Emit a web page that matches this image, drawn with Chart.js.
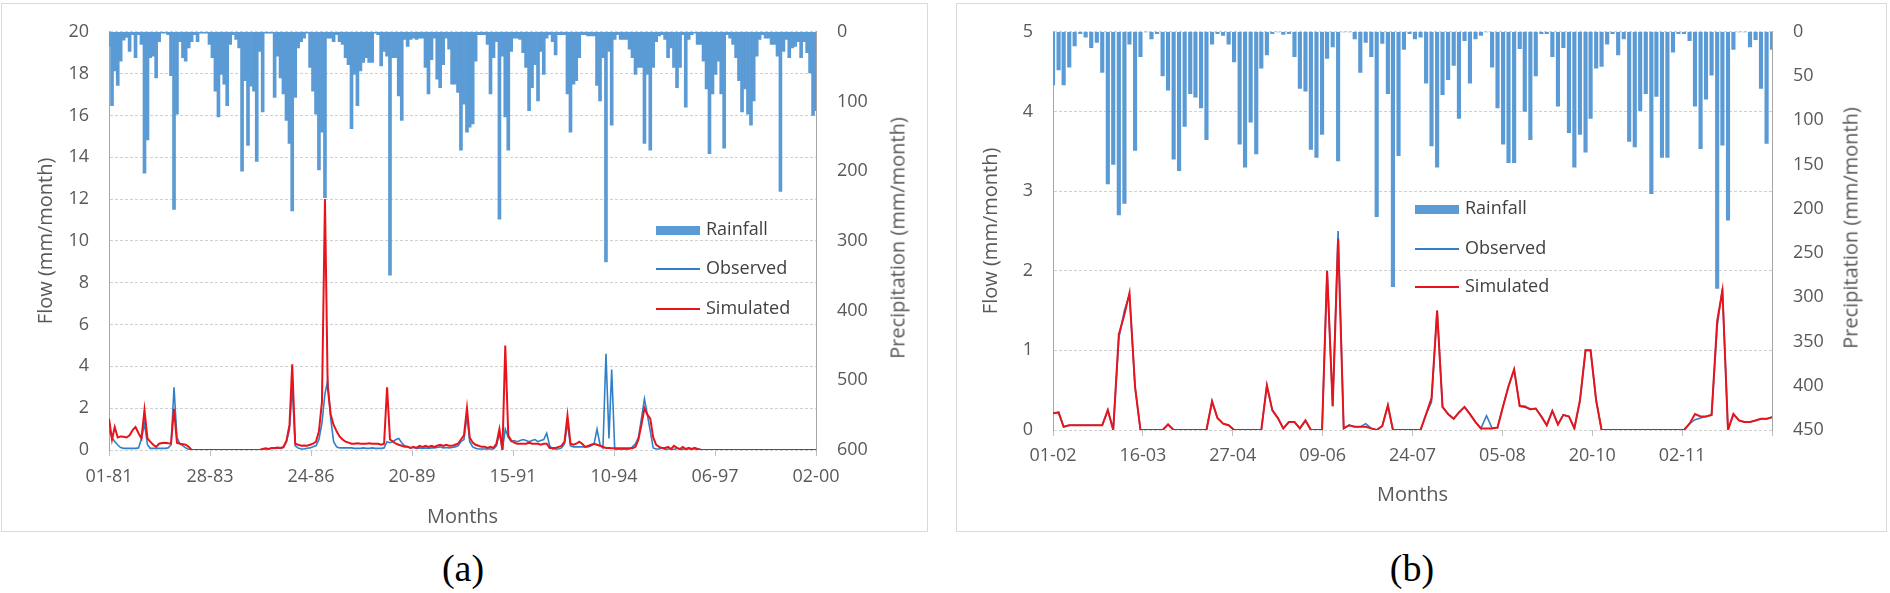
<!DOCTYPE html>
<html>
<head>
<meta charset="utf-8">
<title>Flow and rainfall</title>
<script src="https://cdn.jsdelivr.net/npm/chart.js@4.4.1/dist/chart.umd.min.js"></script>
<style>
  body { margin: 0; width: 1890px; height: 593px; background: #fff; position: relative; overflow: hidden; font-family: "Open Sans", sans-serif; }
  .panel { position: absolute; border: 1px solid #d9d9d9; box-sizing: border-box; }
  .wrap { position: absolute; top: 0; width: 945px; height: 540px; }
  .ytitle2 { position: absolute; transform: translate(-50%, -50%) rotate(-90deg); white-space: nowrap; font-size: 20px; color: #595959; }
  .leg { position: absolute; font-size: 18px; color: #404040; line-height: 20px; transform: translateY(-50%); white-space: nowrap; }
  .leg i { display: inline-block; width: 44px; vertical-align: middle; margin-right: 6px; }
  .cap { position: absolute; top: 568px; transform: translate(-50%, -50%); font-family: "Liberation Serif", serif; font-size: 38px; color: #000; }
</style>
</head>
<body>

<div class="panel" style="left:1px;top:3px;width:927px;height:529px"></div>
<div class="panel" style="left:956px;top:3px;width:931px;height:529px"></div>

<div class="wrap" style="left:0"><canvas id="chartA" width="945" height="540"></canvas></div>
<div class="wrap" style="left:945px"><canvas id="chartB" width="945" height="540"></canvas></div>

<div class="ytitle2" style="left:897px;top:238px">Precipitation (mm/month)</div>
<div class="ytitle2" style="left:1850px;top:228px">Precipitation (mm/month)</div>

<!-- legends (a) -->
<div class="leg" style="left:656px;top:228px"><i style="height:9px;background:#5b9bd5"></i>Rainfall</div>
<div class="leg" style="left:656px;top:267px"><i style="height:2px;background:#2f80c9"></i>Observed</div>
<div class="leg" style="left:656px;top:307px"><i style="height:2px;background:#e8141b"></i>Simulated</div>
<!-- legends (b) -->
<div class="leg" style="left:1415px;top:207px"><i style="height:9px;background:#5b9bd5"></i>Rainfall</div>
<div class="leg" style="left:1415px;top:247px"><i style="height:2px;background:#2f80c9"></i>Observed</div>
<div class="leg" style="left:1415px;top:285px"><i style="height:2px;background:#e8141b"></i>Simulated</div>

<div class="cap" style="left:463px">(a)</div>
<div class="cap" style="left:1412px">(b)</div>

<script>
// ----------------------------
// Data - panel (a), monthly 1981-2000
// ----------------------------
const startA = 1981;
const ticksA = ['01-81', '28-83', '24-86', '20-89', '15-91', '10-94', '06-97', '02-00'];

const rainA = [
  21, 106, 56, 77, 42, 12, 8, 28, 4, 37,
  4, 18, 203, 155, 37, 35, 66, 14, 2, 2,
  4, 63, 255, 118, 14, 37, 42, 23, 14, 4,
  14, 2, 2, 2, 18, 37, 85, 122, 61, 75,
  106, 18, 4, 11, 23, 200, 70, 163, 78, 85,
  186, 28, 115, 2, 2, 2, 94, 35, 66, 89,
  127, 160, 257, 94, 23, 14, 9, 2, 51, 85,
  118, 198, 144, 238, 9, 9, 14, 4, 14, 18,
  37, 47, 139, 61, 106, 56, 44, 37, 44, 44,
  2, 4, 49, 28, 35, 349, 37, 37, 92, 127,
  11, 21, 11, 9, 11, 9, 9, 51, 89, 40,
  9, 68, 80, 47, 9, 25, 75, 75, 87, 170,
  104, 144, 137, 132, 42, 4, 4, 4, 18, 89,
  37, 14, 269, 35, 122, 170, 28, 9, 9, 11,
  30, 51, 113, 80, 47, 99, 28, 61, 9, 4,
  14, 33, 4, 4, 4, 89, 144, 75, 70, 37,
  4, 4, 6, 6, 6, 77, 99, 37, 330, 28,
  134, 11, 4, 11, 11, 11, 25, 37, 61, 51,
  51, 160, 61, 170, 51, 14, 6, 4, 11, 37,
  23, 51, 80, 51, 4, 108, 11, 4, 2, 18,
  18, 42, 82, 175, 89, 61, 42, 89, 167, 4,
  9, 18, 37, 70, 115, 82, 118, 134, 99, 35,
  11, 4, 9, 9, 18, 18, 35, 229, 28, 11,
  37, 23, 21, 14, 37, 14, 30, 59, 120, 113
];

const observedA = [
  0.95, 0.6, 0.4, 0.24, 0.12, 0.08, 0.08, 0.08, 0.08, 0.08,
  0.1, 0.55, 1.26, 0.25, 0.08, 0.08, 0.08, 0.08, 0.08, 0.08,
  0.1, 0.24, 3.0, 0.6, 0.3, 0.2, 0.1, 0.03, 0, 0,
  0, 0, 0, 0, 0, 0, 0, 0, 0, 0,
  0, 0, 0, 0, 0, 0, 0, 0, 0, 0,
  0, 0, 0.03, 0.06, 0.04, 0.08, 0.08, 0.1, 0.08, 0.12,
  0.4, 1.0, 3.0, 0.2, 0.1, 0.05, 0.05, 0.08, 0.1, 0.15,
  0.2, 0.5, 1.3, 2.7, 3.3, 1.5, 0.4, 0.15, 0.1, 0.1,
  0.1, 0.1, 0.1, 0.08, 0.08, 0.08, 0.1, 0.08, 0.08, 0.1,
  0.08, 0.08, 0.08, 0.1, 0.4, 0.35, 0.4, 0.5, 0.55, 0.35,
  0.2, 0.15, 0.1, 0.12, 0.08, 0.1, 0.08, 0.1, 0.08, 0.1,
  0.1, 0.12, 0.15, 0.1, 0.12, 0.1, 0.12, 0.15, 0.2, 0.4,
  0.5, 1.65, 0.4, 0.15, 0.08, 0.05, 0.05, 0.05, 0.05, 0.05,
  0.05, 0.2, 0.8, 0, 1.0, 0.6, 0.4, 0.45, 0.4, 0.45,
  0.5, 0.45, 0.4, 0.45, 0.5, 0.4, 0.45, 0.5, 0.8, 0.2,
  0.05, 0.05, 0.05, 0.1, 0.3, 1.3, 0.2, 0.15, 0.15, 0.15,
  0.15, 0.15, 0.15, 0.2, 0.3, 1.0, 0.25, 0.1, 4.6, 0.55,
  3.85, 0.05, 0.03, 0.03, 0.03, 0.03, 0.05, 0.15, 0.3, 0.6,
  1.5, 2.45, 1.7, 0.9, 0.1, 0.05, 0.05, 0.1, 0.02, 0.05,
  0.05, 0.02, 0.08, 0.02, 0.05, 0.02, 0.06, 0.02, 0.06, 0.02,
  0.05, null, null, null, null, null, null, null, null, null,
  null, null, null, null, null, null, null, null, null, null,
  null, null, null, null, null, null, null, null, null, null,
  null, null, null, null, null, null, null, null, null, null
];

const simulatedA = [
  1.5, 0.5, 1.1, 0.6, 0.65, 0.63, 0.6, 0.7, 0.95, 1.1,
  0.8, 0.55, 1.92, 0.55, 0.4, 0.25, 0.15, 0.3, 0.33, 0.35,
  0.32, 0.3, 1.97, 0.35, 0.3, 0.28, 0.25, 0.15, 0, 0,
  0, 0, 0, 0, 0, 0, 0, 0, 0, 0,
  0, 0, 0, 0, 0, 0, 0, 0, 0, 0,
  0, 0, 0.05, 0.08, 0.05, 0.1, 0.1, 0.12, 0.1, 0.15,
  0.45, 1.2, 4.1, 0.3, 0.25, 0.2, 0.22, 0.2, 0.25, 0.3,
  0.4, 0.9, 2.3, 12, 3.0, 1.7, 1.2, 0.9, 0.65, 0.5,
  0.4, 0.35, 0.3, 0.3, 0.32, 0.3, 0.3, 0.3, 0.32, 0.3,
  0.3, 0.3, 0.25, 0.3, 3.0, 0.5, 0.4, 0.3, 0.25, 0.2,
  0.15, 0.15, 0.1, 0.15, 0.1, 0.2, 0.15, 0.2, 0.15, 0.2,
  0.15, 0.2, 0.25, 0.2, 0.25, 0.2, 0.2, 0.25, 0.3, 0.5,
  0.7, 2.0, 0.6, 0.35, 0.25, 0.2, 0.15, 0.15, 0.1, 0.15,
  0.1, 0.3, 1.0, 0, 5.0, 0.7, 0.45, 0.35, 0.3, 0.3,
  0.3, 0.3, 0.35, 0.3, 0.3, 0.3, 0.25, 0.3, 0.3, 0.1,
  0.1, 0.1, 0.15, 0.2, 0.4, 1.65, 0.3, 0.25, 0.3, 0.4,
  0.3, 0.15, 0.2, 0.25, 0.3, 0.25, 0.2, 0.15, 0.1, 0.1,
  0.08, 0.08, 0.08, 0.08, 0.08, 0.08, 0.08, 0.08, 0.15, 0.5,
  1.2, 2.0, 1.7, 1.5, 0.6, 0.25, 0.15, 0.1, 0.1, 0.15,
  0.05, 0.2, 0.1, 0.05, 0.15, 0.05, 0.1, 0.05, 0.1, 0.05,
  0, 0, 0, 0, 0, 0, 0, 0, 0, 0,
  0, 0, 0, 0, 0, 0, 0, 0, 0, 0,
  0, 0, 0, 0, 0, 0, 0, 0, 0, 0,
  0, 0, 0, 0, 0, 0, 0, 0, 0, 0
];

// ----------------------------
// Data - panel (b), monthly 2002-2012
// ----------------------------
const startB = 2002;
const ticksB = ['01-02', '16-03', '27-04', '09-06', '24-07', '05-08', '20-10', '02-11'];

const rainB = [
  60, 43, 60, 40, 16, 2, 6, 18, 12, 46,
  172, 150, 207, 194, 14, 134, 28, 0, 8, 2,
  50, 66, 144, 157, 107, 70, 74, 86, 122, 14,
  2, 4, 14, 34, 127, 153, 102, 138, 41, 26,
  2, 0, 3, 2, 28, 64, 67, 133, 142, 116,
  30, 17, 146, 0, 0, 8, 46, 12, 28, 209,
  13, 70, 288, 140, 20, 2, 8, 6, 58, 129,
  153, 71, 54, 38, 98, 10, 58, 8, 4, 0,
  40, 86, 127, 148, 148, 19, 90, 122, 50, 2,
  2, 28, 84, 18, 114, 153, 116, 136, 98, 41,
  39, 14, 2, 26, 8, 124, 130, 89, 70, 183,
  73, 142, 142, 23, 2, 2, 10, 84, 132, 76,
  49, 290, 128, 213, 20, 0, 0, 17, 9, 64,
  126, 20
];

const observedB = [
  0.21, 0.22, 0.04, 0.06, 0.06, 0.06, 0.06, 0.06, 0.06, 0.06,
  0.25, 0, 1.15, 1.5, 1.7, 0.54, 0, 0, 0, 0,
  0, 0.07, 0, 0, 0, 0, 0, 0, 0, 0.36,
  0.15, 0.08, 0.06, 0, 0, 0, 0, 0, 0, 0.56,
  0.25, 0.15, 0.02, 0.1, 0.1, 0.02, 0.12, 0, 0, 0,
  2.0, 0.3, 2.5, 0.02, 0.06, 0.04, 0.04, 0.08, 0.02, 0,
  0.05, 0.31, 0, 0, 0, 0, 0, 0, 0.2, 0.35,
  1.5, 0.29, 0.2, 0.14, 0.22, 0.29, 0.2, 0.1, 0.02, 0.18,
  0.02, 0.03, 0.3, 0.55, 0.76, 0.3, 0.3, 0.26, 0.27, 0.17,
  0.06, 0.24, 0.07, 0.19, 0.17, 0.02, 0.37, 1.0, 1.0, 0.37,
  0, 0, 0, 0, 0, 0, 0, 0, 0, 0,
  0, 0, 0, 0, 0, 0, 0.08, 0.13, 0.15, 0.17,
  0.19, 1.3, 1.78, 0, 0.2, 0.12, 0.1, 0.1, 0.12, 0.14,
  0.14, 0.16
];

const simulatedB = [
  0.21, 0.22, 0.04, 0.06, 0.06, 0.06, 0.06, 0.06, 0.06, 0.06,
  0.25, 0, 1.2, 1.45, 1.72, 0.54, 0, 0, 0, 0,
  0, 0.07, 0, 0, 0, 0, 0, 0, 0, 0.36,
  0.15, 0.08, 0.06, 0, 0, 0, 0, 0, 0, 0.56,
  0.25, 0.15, 0.02, 0.1, 0.1, 0.02, 0.12, 0, 0, 0,
  2.0, 0.3, 2.4, 0.02, 0.06, 0.04, 0.04, 0.04, 0.02, 0,
  0.05, 0.31, 0, 0, 0, 0, 0, 0, 0.2, 0.4,
  1.5, 0.29, 0.2, 0.14, 0.22, 0.29, 0.2, 0.1, 0.02, 0.02,
  0.02, 0.03, 0.3, 0.55, 0.76, 0.3, 0.29, 0.26, 0.27, 0.17,
  0.06, 0.24, 0.07, 0.19, 0.17, 0.02, 0.37, 1.0, 1.0, 0.37,
  0, 0, 0, 0, 0, 0, 0, 0, 0, 0,
  0, 0, 0, 0, 0, 0, 0.08, 0.2, 0.17, 0.17,
  0.19, 1.37, 1.75, 0, 0.2, 0.12, 0.1, 0.1, 0.12, 0.14,
  0.14, 0.16
];

// ----------------------------
// Helpers
// ----------------------------
const DAY = 86400000;

// days since 1 Jan of the first year, for the 1st of every month
function monthDays(startYear, count) {
  const t0 = Date.UTC(startYear, 0, 1);
  const out = [];
  for (let i = 0; i < count; i++) out.push((Date.UTC(startYear, i, 1) - t0) / DAY);
  return out;
}

function pts(days, values) {
  return values.map((v, i) => ({ x: days[i], y: v }));
}

Chart.defaults.font.family = "'Open Sans', sans-serif";
Chart.defaults.color = '#595959';

function drawPanel(id, p) {
  const days = monthDays(p.start, p.rain.length);

  new Chart(document.getElementById(id), {
    type: 'bar',
    data: {
      datasets: [
        {
          type: 'line', label: 'Simulated', data: pts(days, p.sim), yAxisID: 'y',
          borderColor: '#e8141b', borderWidth: 2, pointRadius: 0, tension: 0, order: 0
        },
        {
          type: 'line', label: 'Observed', data: pts(days, p.obs), yAxisID: 'y',
          borderColor: '#2f80c9', borderWidth: 1.6, pointRadius: 0, tension: 0, spanGaps: false, order: 1
        },
        {
          type: 'bar', label: 'Rainfall', data: pts(days, p.rain), yAxisID: 'y2',
          backgroundColor: '#5b9bd5', borderWidth: 0, barThickness: p.barW, order: 2
        }
      ]
    },
    options: {
      responsive: false,
      animation: false,
      layout: { padding: { top: p.top, left: 0, right: 0, bottom: 0 } },
      plugins: { legend: { display: false }, tooltip: { enabled: false } },
      scales: {
        x: {
          type: 'linear', offset: false,
          min: 0, max: days[days.length - 1],
          afterFit: s => { s.height = p.xH; },
          ticks: {
            stepSize: p.step, includeBounds: false, autoSkip: false, maxRotation: 0,
            padding: p.xPad, font: { size: 18 },
            callback: v => p.ticks[Math.round(v / p.step)] || ''
          },
          grid: { offset: false, drawOnChartArea: false, drawTicks: true, tickLength: 6, color: '#bfbfbf' },
          border: { display: false },
          // bottom titles are offset from the axis bottom by padding.bottom
          title: { display: true, text: 'Months', font: { size: 20 }, padding: { top: 0, bottom: p.monthsPad } }
        },
        y: {
          type: 'linear', position: 'left',
          min: 0, max: p.flowMax,
          afterFit: s => { s.width = p.leftW; },
          ticks: { stepSize: p.flowStep, padding: 20, font: { size: 18 } },
          grid: { color: '#d0d0d0', drawTicks: false },
          border: { display: true, color: '#a6a6a6', dash: [3, 2] },
          title: { display: true, text: 'Flow (mm/month)', font: { size: 20 }, padding: { top: 34, bottom: 0 } }
        },
        y2: {
          type: 'linear', position: 'right', reverse: true,
          min: 0, max: p.rainMax,
          afterFit: s => { s.width = p.rightW; },
          ticks: { stepSize: p.rainStep, padding: 21, font: { size: 18 } },
          grid: { drawOnChartArea: false, drawTicks: false },
          border: { display: true, color: '#a6a6a6' }
        }
      }
    }
  });
}

// ----------------------------
// Build both panels
// ----------------------------
drawPanel('chartA', {
  start: startA, rain: rainA, obs: observedA, sim: simulatedA, ticks: ticksA,
  step: 1000, flowMax: 20, flowStep: 2, rainMax: 600, rainStep: 100,
  top: 27, leftW: 109, rightW: 129, xH: 90, xPad: 10, monthsPad: 11, barW: 3
});

drawPanel('chartB', {
  start: startB, rain: rainB, obs: observedB, sim: simulatedB, ticks: ticksB,
  step: 500, flowMax: 5, flowStep: 1, rainMax: 450, rainStep: 50,
  top: 28, leftW: 108, rightW: 118, xH: 110, xPad: 9, monthsPad: 33, barW: 3.5
});
</script>
</body>
</html>
